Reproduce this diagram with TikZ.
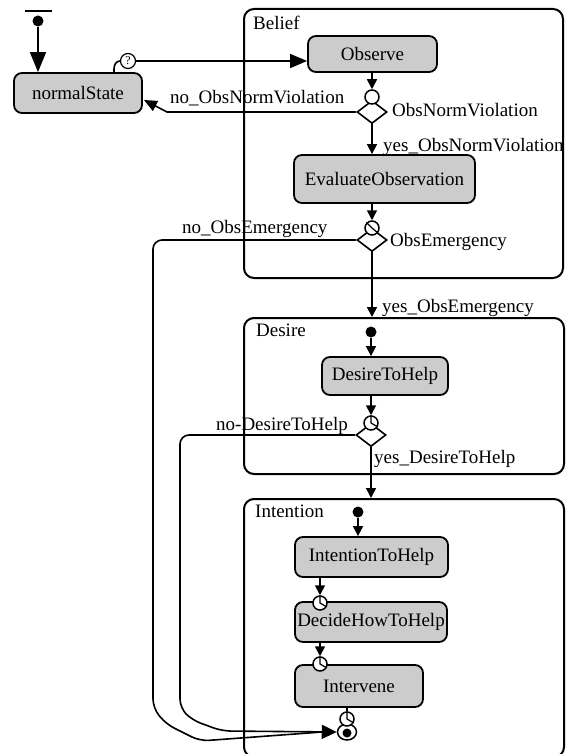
\documentclass[tikz,border=0pt]{standalone}
\usepackage{fontspec}
\setmainfont{Liberation Serif}
\usetikzlibrary{arrows.meta,shapes.geometric}
\definecolor{boxgray}{RGB}{204,204,204}
\begin{document}
\begin{tikzpicture}[x=1pt,y=-1pt,
  every node/.style={font=\fontsize{19}{21}\selectfont},
  statebox/.style={draw, line width=1.8pt, rounded corners=8pt, fill=boxgray, inner sep=0pt},
  container/.style={draw, line width=2pt, rounded corners=10pt, anchor=north west, inner sep=0pt},
  lbl/.style={anchor=base west, inner sep=0pt},
  conn/.style={line width=1.6pt},
  smallarrow/.style={-{Triangle[length=10pt,width=10pt]}},
  decision/.style={diamond, draw, fill=white, line width=1.6pt, aspect=1.3, minimum width=30pt, minimum height=23pt, inner sep=0pt},
  junction/.style={circle, draw, fill=white, line width=1.5pt, minimum size=14pt, inner sep=0pt},
  initdot/.style={circle, fill=black, inner sep=0pt, minimum size=11pt},
  hands/.style={line width=1.2pt}
]
\useasboundingbox (0,0) rectangle (565,754);

% containers
\node[container, minimum width=319pt, minimum height=269pt] (belief) at (243,8) {};
\node[container, minimum width=320pt, minimum height=156pt] (desire) at (243,317) {};
\node[container, minimum width=320pt, minimum height=258pt] (intention) at (243,498) {};
\node[lbl] (beliefL) at (253,30) {Belief};
\node[lbl] (desireL) at (256,336) {Desire};
\node[lbl] (intentionL) at (255,517) {Intention};

% states
\node[statebox, minimum width=128pt, minimum height=40pt] (ns) at (78,93) {normalState};
\node[statebox, minimum width=129pt, minimum height=36pt] (obs) at (372.5,54) {Observe};
\node[statebox, minimum width=181pt, minimum height=48pt] (eval) at (384.5,179) {EvaluateObservation};
\node[statebox, minimum width=126pt, minimum height=38pt] (dth) at (385,376) {DesireToHelp};
\node[statebox, minimum width=153pt, minimum height=40pt] (ith) at (371.5,557) {IntentionToHelp};
\node[statebox, minimum width=152pt, minimum height=40pt] (dhh) at (371,622) {DecideHowToHelp};
\node[statebox, minimum width=128pt, minimum height=42pt] (int) at (359,686) {Intervene};

% top-left initial state
\coordinate (barL) at (25,11);
\coordinate (barR) at (52,11);
\draw[line width=1.6pt] (barL) -- (barR);
\node[initdot] (init0) at (38,21) {};
\draw[conn, -{Triangle[length=20pt,width=16pt]}] (init0) -- (init0 |- ns.north);

% question mark to Observe
\node[circle, draw, fill=white, line width=1.2pt, minimum size=15pt, inner sep=0pt, font=\fontsize{12}{12}\selectfont] (q) at (128,61) {?};
\coordinate (qs) at (114,73);
\draw[conn] (qs) -- (114,69) to[out=90,in=180] (q.west);
\draw[conn, -{Triangle[length=17pt,width=14pt]}] (q.east) -- (q.east -| obs.west);

% first decision
\node[decision] (d1) at (372,112) {};
\node[junction] (c1) at (372,97) {};
\draw[conn, smallarrow] (obs.south -| c1) -- (c1.north);
\coordinate (nsbend) at (167,112);
\coordinate (nsin) at (144,100);
\draw[conn, -{Triangle[length=13pt,width=11pt]}] (d1.west) -- (nsbend) -- (nsin);
\draw[conn, smallarrow] (d1.south) -- (d1.south |- eval.north);
\node[lbl] (l1) at (170,104) {no\_ObsNormViolation};
\node[lbl] (l2) at (392,117) {ObsNormViolation};
\node[lbl] (l3) at (383,152) {yes\_ObsNormViolation};

% second decision
\node[decision] (d2) at (372,240) {};
\node[junction] (c2) at (372,228) {};
\draw[hands] (c2.135) -- (c2.center) -- (c2.-40);
\draw[conn, smallarrow] (eval.south -| c2) -- (c2.north);
\draw[conn, smallarrow] (d2.south) -- (d2.south |- desire.north);
\node[lbl] (l4) at (182,233) {no\_ObsEmergency};
\node[lbl] (l5) at (390,246) {ObsEmergency};
\node[lbl] (l6) at (382,312) {yes\_ObsEmergency};

% desire
\node[initdot] (init1) at (371,332) {};
\draw[conn, smallarrow] (init1) -- (init1 |- dth.north);
\node[decision] (d3) at (371,435) {};
\node[junction] (c3) at (371,423) {};
\draw[hands] (c3.north) -- (c3.center) -- (c3.-30);
\draw[conn, smallarrow] (dth.south -| c3) -- (c3.north);
\draw[conn, smallarrow] (d3.south) -- (d3.south |- intention.north);
\node[lbl] (l7) at (216,430) {no-DesireToHelp};
\node[lbl] (l8) at (374,463) {yes\_DesireToHelp};

% intention
\node[initdot] (init2) at (358,512) {};
\draw[conn, smallarrow] (init2) -- (init2 |- ith.north);
\node[junction] (c5) at (320,603) {};
\draw[hands] (c5.north) -- (c5.center) -- (c5.-30);
\draw[conn, smallarrow] (ith.south -| c5) -- (c5.north);
\node[junction] (c6) at (320,664) {};
\draw[hands] (c6.north) -- (c6.center) -- (c6.-30);
\draw[conn, smallarrow] (dhh.south -| c6) -- (c6.north);

% final state
\node[ellipse, draw, fill=white, line width=1.5pt, minimum width=19pt, minimum height=16pt, inner sep=0pt] (fin) at (347,732) {};
\node[circle, fill=black, minimum size=9pt, inner sep=0pt] (findot) at (347,733) {};
\node[junction] (c7) at (347,719) {};
\draw[hands] (c7.north) -- (c7.center) -- (c7.-30);
\draw[conn] (int.south -| c7) -- (c7.north);

% long return paths
\draw[conn, rounded corners=9pt] (d2.west) -- (153,240) -- (153,708) -- (166,724) -- (200,741) -- (322,732);
\draw[conn, rounded corners=9pt, -{Triangle[length=15pt,width=14pt]}] (d3.west) -- (180,435) -- (180,708) -- (192,720) -- (222,731) -- (fin.west);
\end{tikzpicture}
\end{document}
